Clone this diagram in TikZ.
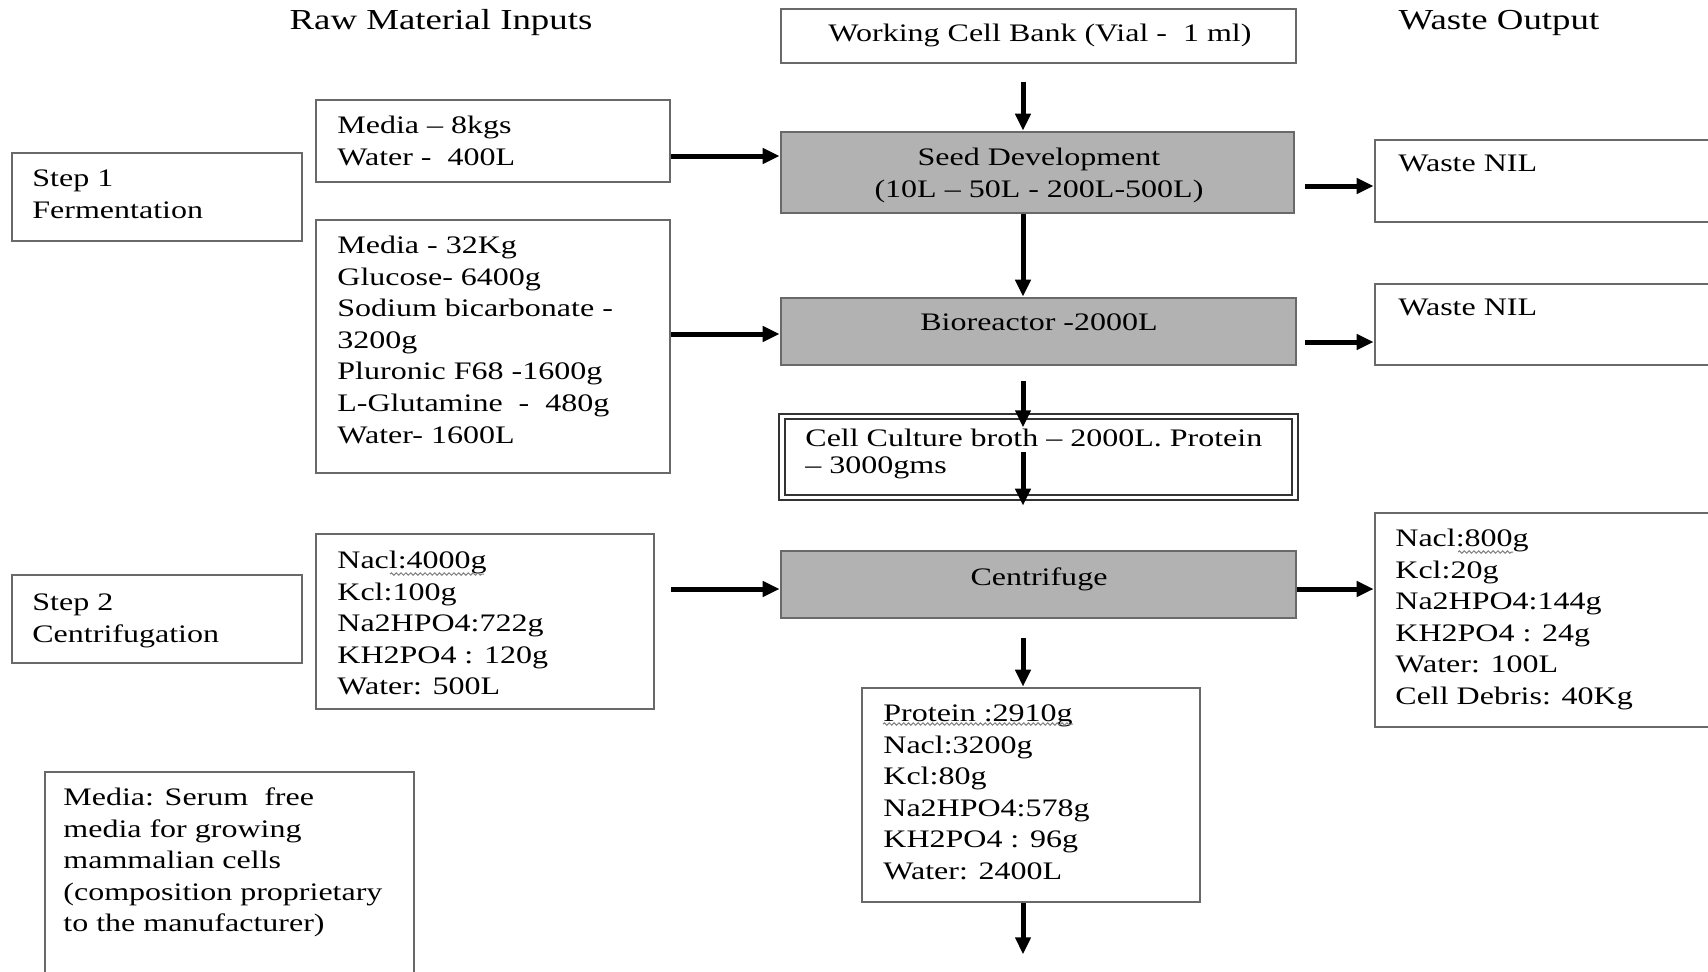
\documentclass[tikz,border=0pt]{standalone}
\usepackage{fontspec}
\setmainfont{Liberation Serif}[FakeStretch=1.27]
\usetikzlibrary{arrows.meta,calc,fit,decorations.pathmorphing}
\definecolor{bordgray}{RGB}{105,105,105}
\definecolor{procgray}{RGB}{178,178,178}
\newcommand\fl{\rule{0pt}{11pt}}
\begin{document}
\begin{tikzpicture}[x=0.5pt,y=-0.5pt,
  box/.style={draw=bordgray,line width=1.3pt,inner sep=0pt,fill=white},
  proc/.style={box,fill=procgray},
  dbl/.style={draw=black!80,line width=0.7pt,inner sep=0pt},
  txt/.style={anchor=north west,inner sep=0pt,align=left,font=\fontsize{12.6pt}{15.8pt}\selectfont},
  ctxt/.style={anchor=base,inner sep=0pt,font=\fontsize{12.6pt}{15.8pt}\selectfont},
  head/.style={anchor=base,inner sep=0pt,font=\fontsize{14.5pt}{17pt}\selectfont},
  arr/.style={-{Triangle[length=8.5pt,width=7.5pt]},line width=2.5pt,black},
  squig/.style={draw=gray,line width=0.5pt,decorate,decoration={snake,amplitude=0.6pt,segment length=2.4pt}}
]
\useasboundingbox[fill=white] (0,0) rectangle (1708,971);

% headings
\node[head] (hin) at (441,29.5) {Raw Material Inputs};
\node[head] (hout) at (1499,29.5) {Waste Output};

% boxes
\node[box,fit={(781,9)(1296,63)}] (wcb) {};
\node[proc,fit={(781,132)(1294,213)}] (seed) {};
\node[proc,fit={(781,298)(1296,365)}] (bio) {};
\node[dbl,fit={(779,414)(1298,500)}] (brotho) {};
\node[dbl,fit={(785,419)(1292,495)}] (brothi) {};
\node[proc,fit={(781,551)(1296,618)}] (cent) {};
\node[box,fit={(862,688)(1200,902)}] (prot) {};

\node[box,fit={(12,153)(302,241)}] (step1) {};
\node[box,fit={(316,100)(670,182)}] (m1) {};
\node[box,fit={(316,220)(670,473)}] (m2) {};
\node[box,fit={(12,575)(302,663)}] (step2) {};
\node[box,fit={(316,534)(654,709)}] (m3) {};
\node[box,fit={(45,772)(414,995)}] (note) {};

\node[box,fit={(1375,140)(1730,222)}] (w1) {};
\node[box,fit={(1375,284)(1730,365)}] (w2) {};
\node[box,fit={(1375,513)(1730,727)}] (w3) {};

% texts
\node[ctxt] (twcb) at (1040,41) {Working Cell Bank (Vial -~ 1 ml)};
\node[txt,align=center,anchor=north] (tseed) at (1039,143) {\fl Seed Development\\(10L – 50L - 200L-500L)};
\node[ctxt] (tbio) at (1039,330) {Bioreactor -2000L};
\node[txt,font=\fontsize{12.6pt}{13.5pt}\selectfont] (tbroth) at (805,424) {\fl Cell Culture broth – 2000L. Protein\\– 3000gms};
\node[ctxt] (tcent) at (1039,585) {Centrifuge};
\node[txt] (tprot) at (883,699) {\fl Protein :2910g\\Nacl:3200g\\Kcl:80g\\Na2HPO4:578g\\KH2PO4 : 96g\\Water: 2400L};

\node[txt] (tstep1) at (32,164) {\fl Step 1\\Fermentation};
\node[txt] (tm1) at (337,111) {\fl Media – 8kgs\\Water -~ 400L};
\node[txt] (tm2) at (337,231) {\fl Media - 32Kg\\Glucose- 6400g\\Sodium bicarbonate -\\3200g\\Pluronic F68 -1600g\\L-Glutamine~ -~ 480g\\Water- 1600L};
\node[txt] (tstep2) at (32,588) {\fl Step 2\\Centrifugation};
\node[txt] (tm3) at (337,546) {\fl Nacl:4000g\\Kcl:100g\\Na2HPO4:722g\\KH2PO4 : 120g\\Water: 500L};
\node[txt] (tnote) at (63,783) {\fl Media: Serum~ free\\media for growing\\mammalian cells\\(composition proprietary\\to the manufacturer)};

\node[txt] (tw1) at (1398,149) {\fl Waste NIL};
\node[txt] (tw2) at (1398,293) {\fl Waste NIL};
\node[txt] (tw3) at (1395,524) {\fl Nacl:800g\\Kcl:20g\\Na2HPO4:144g\\KH2PO4 : 24g\\Water: 100L\\Cell Debris: 40Kg};

% spell-check squiggles
\draw[squig] (390,574) -- (484,574);
\draw[squig] (1458,552) -- (1513,552);
\draw[squig] (883,724) -- (1073,724);

% vertical connectors
\coordinate (xc) at (1023,0);
\coordinate (v1) at ($(wcb.south -| xc)+(0,18)$);
\draw[arr] (v1) -- (seed.north -| xc);
\draw[arr] (seed.south -| xc) -- (bio.north -| xc);
\coordinate (v3a) at ($(bio.south -| xc)+(0,15)$);
\coordinate (v3b) at ($(brotho.north -| xc)+(0,14)$);
\draw[arr] (v3a) -- (v3b);
\coordinate (v4a) at ($(brotho.north -| xc)+(0,39)$);
\coordinate (v4b) at ($(brotho.south -| xc)+(0,5)$);
\draw[arr] (v4a) -- (v4b);
\coordinate (v5) at ($(cent.south -| xc)+(0,19)$);
\draw[arr] (v5) -- (prot.north -| xc);
\coordinate (out) at ($(prot.south -| xc)+(0,51)$);
\draw[arr] (prot.south -| xc) -- (out);

% horizontal connectors
\coordinate (h1) at ($(m1.east)+(0,15)$);
\draw[arr] (h1) -- (h1 -| seed.west);
\coordinate (h2) at ($(m2.east)+(0,-12.5)$);
\draw[arr] (h2) -- (h2 -| bio.west);
\coordinate (h3) at ($(m3.east)+(16,-32.5)$);
\draw[arr] (h3) -- (h3 -| cent.west);
\coordinate (h4) at ($(seed.east)+(10,13.5)$);
\draw[arr] (h4) -- (h4 -| w1.west);
\coordinate (h5) at ($(bio.east)+(8,10.5)$);
\draw[arr] (h5) -- (h5 -| w2.west);
\coordinate (h6) at ($(cent.east)+(0,4.5)$);
\draw[arr] (h6) -- (h6 -| w3.west);
\end{tikzpicture}
\end{document}
